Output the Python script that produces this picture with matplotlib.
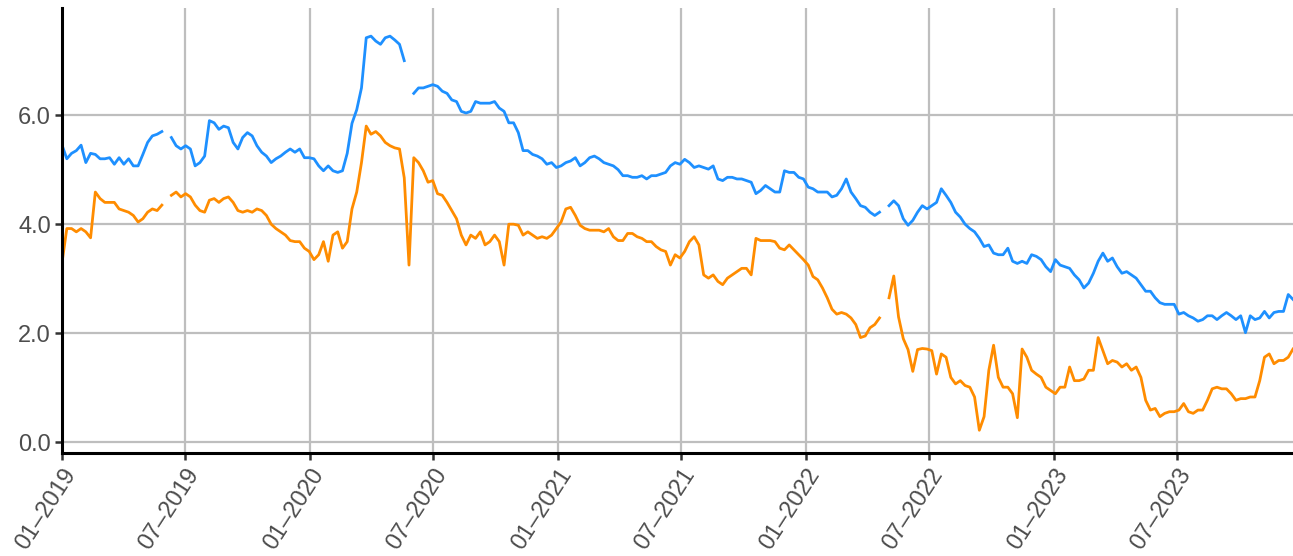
import matplotlib
matplotlib.use("Agg")
import matplotlib.pyplot as plt
import matplotlib.dates as mdates
import matplotlib.ticker as mticker
import numpy as np
import pandas as pd

nan = np.nan

# weekly readings, Jan 2019 - Dec 2023 (26 per half year)
blue_vals = [
    5.45, 5.2, 5.3, 5.35, 5.45, 5.13, 5.3, 5.28, 5.2, 5.2, 5.22, 5.1, 5.22,
    5.1, 5.2, 5.07, 5.07, 5.28, 5.5, 5.62, 5.65, 5.7, nan, 5.59, 5.44, 5.38,
    5.44, 5.38, 5.07, 5.13, 5.25, 5.9, 5.86, 5.74, 5.8, 5.77, 5.5, 5.38, 5.59,
    5.68, 5.62, 5.44, 5.32, 5.25, 5.13, 5.2, 5.25, 5.32, 5.38, 5.32, 5.38, 5.22,
    5.22, 5.2, 5.07, 4.98, 5.07, 4.98, 4.95, 4.98, 5.3, 5.85, 6.1, 6.5, 7.42,
    7.45, 7.36, 7.3, 7.42, 7.45, 7.38, 7.3, 7.0, nan, 6.4, 6.5, 6.5, 6.53,
    6.56, 6.53, 6.44, 6.4, 6.28, 6.25, 6.07, 6.04, 6.07, 6.25, 6.22, 6.22, 6.22,
    6.25, 6.13, 6.07, 5.86, 5.86, 5.68, 5.35, 5.35, 5.28, 5.25, 5.2, 5.1, 5.13,
    5.04, 5.07, 5.13, 5.16, 5.22, 5.07, 5.13, 5.22, 5.25, 5.2, 5.13, 5.1, 5.07,
    5.0, 4.89, 4.89, 4.86, 4.86, 4.89, 4.83, 4.89, 4.89, 4.92, 4.95, 5.07, 5.13,
    5.1, 5.19, 5.13, 5.04, 5.07, 5.04, 5.01, 5.07, 4.83, 4.8, 4.86, 4.86, 4.83,
    4.83, 4.8, 4.77, 4.56, 4.62, 4.71, 4.65, 4.59, 4.59, 4.98, 4.95, 4.95, 4.86,
    4.83, 4.68, 4.65, 4.59, 4.59, 4.59, 4.5, 4.53, 4.65, 4.83, 4.59, 4.47, 4.34,
    4.31, 4.22, 4.16, 4.22, nan, 4.34, 4.43, 4.34, 4.1, 3.98, 4.07, 4.22, 4.34,
    4.28, 4.34, 4.4, 4.65, 4.53, 4.4, 4.22, 4.13, 4.0, 3.92, 3.86, 3.74, 3.59,
    3.62, 3.47, 3.44, 3.44, 3.56, 3.32, 3.28, 3.32, 3.28, 3.44, 3.41, 3.35, 3.22,
    3.13, 3.35, 3.25, 3.22, 3.19, 3.07, 2.98, 2.83, 2.92, 3.1, 3.32, 3.47, 3.32,
    3.38, 3.22, 3.1, 3.13, 3.07, 3.01, 2.89, 2.77, 2.77, 2.65, 2.56, 2.53, 2.53,
    2.53, 2.35, 2.38, 2.32, 2.28, 2.22, 2.25, 2.32, 2.32, 2.25, 2.32, 2.38, 2.32,
    2.25, 2.32, 2.01, 2.32, 2.25, 2.28, 2.4, 2.28, 2.38, 2.4, 2.4, 2.71, 2.62,
]

orange_vals = [
    3.3, 3.92, 3.92, 3.86, 3.92, 3.86, 3.75, 4.59, 4.47, 4.4, 4.4, 4.4, 4.28,
    4.25, 4.22, 4.16, 4.04, 4.1, 4.22, 4.28, 4.25, 4.35, nan, 4.53, 4.59, 4.5,
    4.56, 4.5, 4.35, 4.25, 4.22, 4.44, 4.47, 4.4, 4.47, 4.5, 4.4, 4.25, 4.22,
    4.25, 4.22, 4.28, 4.25, 4.16, 4.0, 3.92, 3.86, 3.8, 3.7, 3.68, 3.68, 3.56,
    3.5, 3.35, 3.44, 3.68, 3.32, 3.8, 3.86, 3.56, 3.68, 4.28, 4.59, 5.13, 5.8,
    5.65, 5.7, 5.62, 5.5, 5.44, 5.4, 5.38, 4.85, 3.25, 5.22, 5.13, 4.98, 4.77,
    4.8, 4.56, 4.53, 4.4, 4.25, 4.1, 3.8, 3.62, 3.8, 3.74, 3.86, 3.62, 3.68,
    3.8, 3.68, 3.25, 4.0, 4.0, 3.98, 3.8, 3.86, 3.8, 3.74, 3.77, 3.74, 3.8,
    3.92, 4.04, 4.28, 4.31, 4.16, 3.98, 3.92, 3.89, 3.89, 3.89, 3.86, 3.92, 3.77,
    3.7, 3.7, 3.83, 3.83, 3.77, 3.74, 3.68, 3.68, 3.59, 3.53, 3.5, 3.25, 3.44,
    3.38, 3.5, 3.68, 3.77, 3.62, 3.07, 3.01, 3.07, 2.95, 2.89, 3.01, 3.07, 3.13,
    3.19, 3.19, 3.07, 3.74, 3.7, 3.7, 3.7, 3.68, 3.56, 3.53, 3.62, 3.53, 3.44,
    3.35, 3.25, 3.04, 2.98, 2.83, 2.65, 2.44, 2.35, 2.38, 2.35, 2.28, 2.16, 1.92,
    1.95, 2.1, 2.16, 2.28, nan, 2.65, 3.05, 2.3, 1.9, 1.7, 1.3, 1.7, 1.72,
    1.71, 1.68, 1.25, 1.62, 1.56, 1.19, 1.07, 1.13, 1.04, 1.01, 0.83, 0.22, 0.47,
    1.32, 1.78, 1.19, 1.01, 1.01, 0.89, 0.45, 1.71, 1.56, 1.32, 1.25, 1.19, 1.01,
    0.95, 0.89, 1.01, 1.01, 1.38, 1.13, 1.13, 1.16, 1.32, 1.32, 1.92, 1.68, 1.44,
    1.5, 1.47, 1.38, 1.44, 1.32, 1.38, 1.19, 0.77, 0.59, 0.62, 0.47, 0.53, 0.56,
    0.56, 0.59, 0.71, 0.56, 0.53, 0.59, 0.59, 0.77, 0.98, 1.01, 0.98, 0.98, 0.89,
    0.77, 0.8, 0.8, 0.83, 0.83, 1.13, 1.56, 1.62, 1.44, 1.5, 1.5, 1.56, 1.71,
]

dates = pd.date_range("2019-01-01", periods=len(blue_vals), freq="7D")
y_ticks = [0.0, 2.0, 4.0, 6.0]

plt.rcParams["font.family"] = ["Liberation Sans", "DejaVu Sans"]

fig = plt.figure(figsize=(12.93, 5.56), dpi=100)
ax = fig.add_axes([0.048, 0.185, 0.952, 0.8])

ax.plot(dates, blue_vals, color="#1E90FF", lw=2.0)
ax.plot(dates, orange_vals, color="#FF8C00", lw=2.0)

ax.set_xlim(dates[0], dates[-1])
ax.set_ylim(-0.2, 7.96)
ax.set_yticks(y_ticks)
ax.yaxis.set_major_formatter(mticker.FormatStrFormatter("%.1f"))
ax.xaxis.set_major_locator(mdates.MonthLocator(bymonth=[1, 7]))
ax.xaxis.set_major_formatter(mdates.DateFormatter("%m\u2013%Y"))

ax.grid(True, color="#BEBEBE", lw=1.6)
ax.set_axisbelow(True)
for s in ["top", "right"]:
    ax.spines[s].set_visible(False)
for s in ["left", "bottom"]:
    ax.spines[s].set_color("black")
    ax.spines[s].set_linewidth(2.2)

ax.tick_params(axis="both", length=5, width=1.8, color="#333333",
               labelcolor="#4D4D4D", labelsize=17, pad=3)
plt.setp(ax.get_xticklabels(), rotation=57, ha="right", va="top",
         rotation_mode="anchor")

fig.savefig("out.png", dpi=100)
